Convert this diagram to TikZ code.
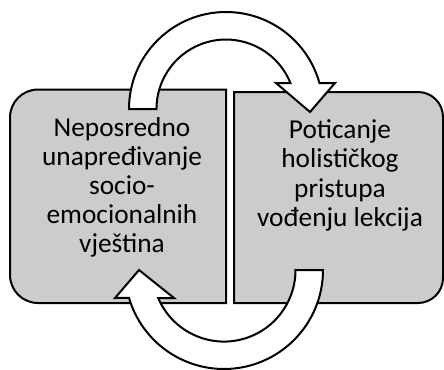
\documentclass[tikz,border=0pt]{standalone}
\usepackage{fontspec}
\setmainfont{Carlito}
\tikzset{every picture/.style={line width=1.5pt}}
\tikzset{
  boxshape/.style={draw=black, fill={rgb,255:red,204;green,204;blue,204}, line width=1.5pt},
  cyclearrow/.style={draw=black, fill=white, line width=1.5pt},
  boxtext/.style={anchor=north, inner sep=0pt, align=center, font=\fontsize{20.5}{21.8}\selectfont}
}

\begin{document}
\begin{tikzpicture}[x=0.75pt,y=0.75pt,yscale=-1,xscale=1]
\useasboundingbox (0,0) rectangle (444,369);

%Shape: Left Box
\draw [boxshape] (226,89.5) -- (38,89.5) arc[start angle=270, end angle=180, radius=28] -- (10,275) arc[start angle=180, end angle=90, radius=28] -- (226,303) -- cycle ;
%Shape: Right Box
\draw [boxshape] (234,92) -- (418,92) arc[start angle=270, end angle=360, radius=25] -- (443,278) arc[start angle=0, end angle=90, radius=25] -- (234,303) -- cycle ;

%Shape: Circular Arrow (top)
\draw [cyclearrow] (129,109) arc[start angle=180, end angle=344.5, radius=97] -- (335,83) -- (310,112) -- (276,83) -- (290.4,83) arc[start angle=338, end angle=180, radius=69.5] -- cycle ;
%Shape: Circular Arrow (bottom)
\draw [cyclearrow] (295.5,270) -- (323,270) arc[start angle=0, end angle=163.6, radius=99] -- (115,298) -- (139,270) -- (174,298) -- (158.2,298) arc[start angle=157, end angle=0, radius=71.5] -- cycle ;

% Text Node
\draw (122,116.5) node [boxtext] (lefttext) {Neposredno\\unapređivanje\\socio-\\emocionalnih\\vještina};
% Text Node
\draw (340,119) node [boxtext] (righttext) {Poticanje\\holističkog\\pristupa\\vođenju lekcija};

\end{tikzpicture}
\end{document}
